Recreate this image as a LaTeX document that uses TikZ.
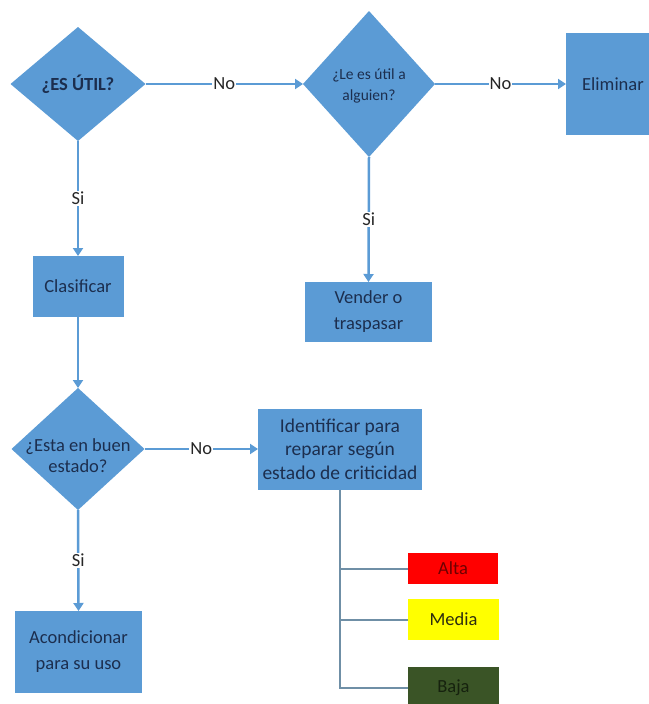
\documentclass[tikz,border=0pt]{standalone}
\usepackage{fontspec}
\setmainfont{Carlito}
\usetikzlibrary{shapes.geometric,arrows.meta}
\definecolor{boxblue}{HTML}{5B9BD5}
\definecolor{txtnavy}{HTML}{1C2E4E}
\definecolor{treegray}{HTML}{6F8FA6}
\definecolor{altared}{HTML}{FF0000}
\definecolor{altatxt}{HTML}{6E0000}
\definecolor{mediayel}{HTML}{FFFF00}
\definecolor{mediatxt}{HTML}{2E2E10}
\definecolor{bajagreen}{HTML}{3A5426}
\definecolor{bajatxt}{HTML}{16220E}
\begin{document}
\begin{tikzpicture}[x=1pt,y=-1pt,
  dia/.style={diamond, fill=boxblue, inner sep=0pt, outer sep=0pt},
  dtxt/.style={align=center, text=txtnavy, inner sep=0pt},
  rbox/.style={rectangle, fill=boxblue, inner sep=0pt, outer sep=0pt, align=center,
    text=txtnavy, font=\fontsize{18.5}{26}\selectfont},
  cbox/.style={rectangle, inner sep=0pt, outer sep=0pt, font=\fontsize{18.5}{24}\selectfont},
  conn/.style={draw=boxblue, line width=2.5pt, -{Triangle[width=10pt,length=8pt]}},
  treeline/.style={draw=treegray, line width=2pt},
  lbl/.style={fill=white, inner sep=1pt, text=black!85, font=\fontsize{18.5}{22}\selectfont}]
\useasboundingbox (0,0) rectangle (648,704);

% decision diamonds
\node[dia, minimum width=135, minimum height=114] (d1) at (78,84) {};
\node[dtxt, font=\fontsize{18.5}{22}\selectfont\bfseries] (d1t) at (d1) {¿ES ÚTIL?};
\node[dia, minimum width=132, minimum height=146] (d2) at (369,84) {};
\node[dtxt, font=\fontsize{15.5}{21}\selectfont] (d2t) at (369,86) {¿Le es útil a\\alguien?};
\node[dia, minimum width=133, minimum height=122] (d3) at (78,449) {};
\node[dtxt, font=\fontsize{18.5}{21}\selectfont] (d3t) at (78,456) {¿Esta en buen\\estado?};

% process boxes
\node[rbox, minimum width=94, minimum height=102] (elim) at (613,84) {Eliminar};
\node[rbox, minimum width=91, minimum height=61] (clas) at (78,286.5) {Clasificar};
\node[rbox, minimum width=127, minimum height=60] (vend) at (368.5,312) {Vender o\\traspasar};
\node[rbox, minimum width=164, minimum height=81, font=\fontsize{19.5}{23.5}\selectfont] (iden) at (340,449) {Identificar para\\reparar según\\estado de criticidad};
\node[rbox, minimum width=127, minimum height=82] (acon) at (78.5,652) {Acondicionar\\para su uso};

% criticality boxes
\node[cbox, fill=altared, text=altatxt, minimum width=90, minimum height=31] (alta) at (453,568.5) {Alta};
\node[cbox, fill=mediayel, text=mediatxt, minimum width=91, minimum height=41] (media) at (453.5,619.5) {Media};
\node[cbox, fill=bajagreen, text=bajatxt, minimum width=91, minimum height=42] (baja) at (453.5,688) {Baja};

% connectors
\draw[conn] (d1.east) -- node[lbl] {No} (d2.west);
\draw[conn] (d2.east) -- node[lbl] {No} (elim.west);
\draw[conn] (d1.south) -- node[lbl] {Si} (clas.north);
\draw[conn] (d2.south) -- node[lbl] {Si} (vend.north);
\draw[conn] (clas.south) -- (d3.north);
\draw[conn] (d3.east) -- node[lbl] {No} (iden.west);
\draw[conn] (d3.south) -- node[lbl] {Si} (acon.north);

% tree to criticality levels
\draw[treeline] (iden.south) |- (baja.west);
\draw[treeline] (iden.south |- alta.west) -- (alta.west);
\draw[treeline] (iden.south |- media.west) -- (media.west);
\end{tikzpicture}
\end{document}
